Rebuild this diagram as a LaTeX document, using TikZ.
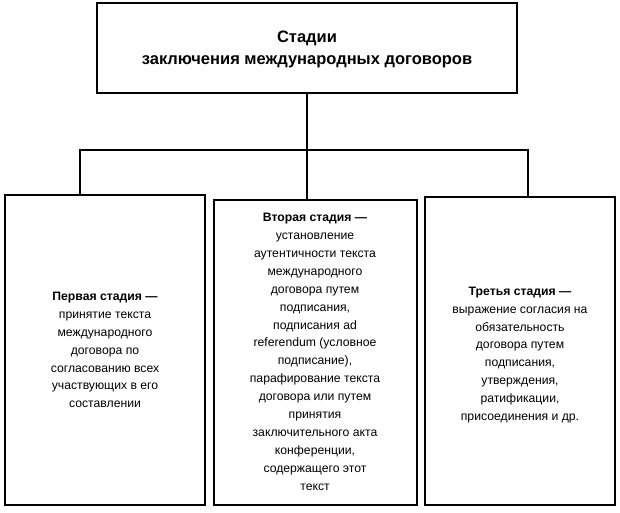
\documentclass[tikz,border=0pt]{standalone}
\usepackage{fontspec}
\setmainfont{Liberation Sans}
\begin{document}
\begin{tikzpicture}[x=1pt,y=-1pt,
  box/.style={draw,line width=1.2pt},
  txt/.style={align=center,font=\fontsize{12.2}{17.9}\selectfont,inner sep=0pt},
  ln/.style={line width=1.2pt}]
\useasboundingbox (0,0) rectangle (620,512);
\draw[box] (97,3) rectangle (517,93);
\node[align=center,font=\bfseries\fontsize{16.5}{22}\selectfont] (top) at (307,49) {Стадии\\заключения международных договоров};
\coordinate (tb) at (307,93);
\coordinate (hub) at (307,150);
\coordinate (hl) at (80,150);
\coordinate (hr) at (528,150);
\coordinate (lt) at (80,195);
\coordinate (mt) at (307,200);
\coordinate (rt) at (528,197);
\draw[ln] (tb) -- (hub);
\draw[ln] (lt) -- (hl) -- (hr) -- (rt);
\draw[ln] (hub) -- (mt);
\draw[box] (5,195) rectangle (205,505);
\draw[box] (214,200) rectangle (417,505);
\draw[box] (425,197) rectangle (615,505);
\node[txt] (l) at (105,350) {\textbf{Первая стадия —}\\принятие текста\\международного\\договора по\\согласованию всех\\участвующих в его\\составлении};
\node[txt,anchor=north] (m) at (315,213) {\textbf{Вторая стадия —}\\установление\\аутентичности текста\\международного\\договора путем\\подписания,\\подписания ad\\referendum (условное\\подписание),\\парафирование текста\\договора или путем\\принятия\\заключительного акта\\конференции,\\содержащего этот\\текст};
\node[txt] (r) at (520,355) {\textbf{Третья стадия —}\\выражение согласия на\\обязательность\\договора путем\\подписания,\\утверждения,\\ратификации,\\присоединения и др.};
\end{tikzpicture}
\end{document}
